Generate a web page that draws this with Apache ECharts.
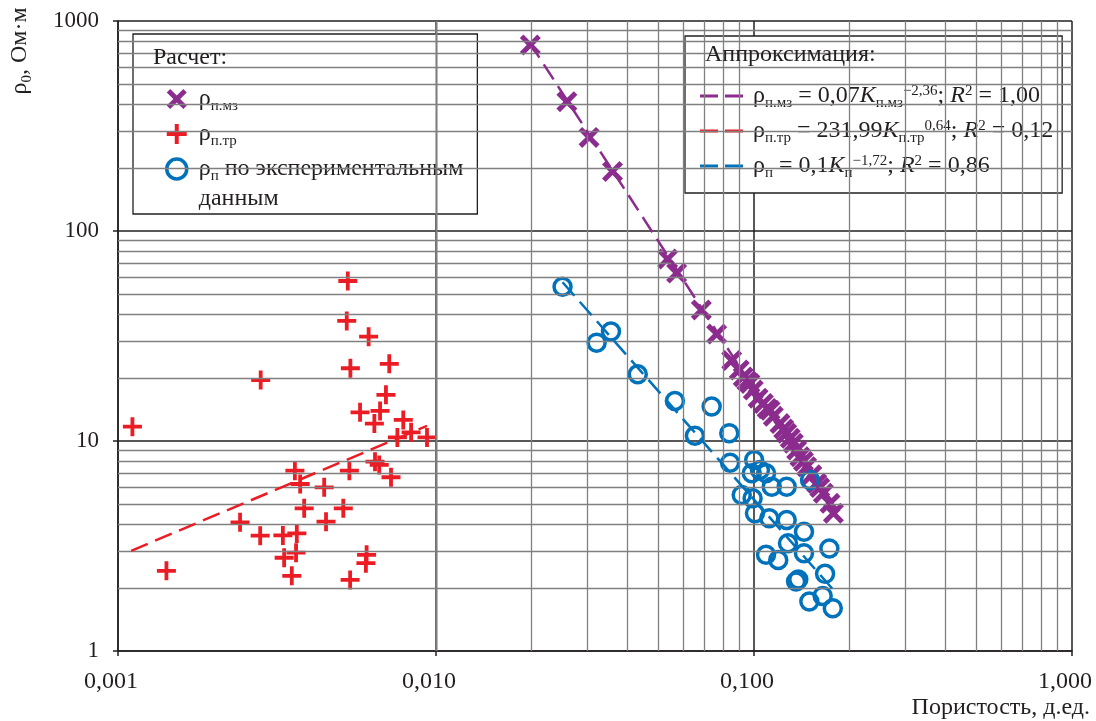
<!DOCTYPE html>
<html>
<head>
<meta charset="utf-8">
<script src="https://cdn.jsdelivr.net/npm/echarts@6/dist/echarts.min.js"></script>
<style>
  html, body { margin: 0; padding: 0; background: #fff; }
  #chart { width: 1096px; height: 721px; }
</style>
</head>
<body>
<div id="chart"></div>
<script>
// Porosity K (fraction) and resistivity ρ (Ом·м) for each sample
const mzPorosity = [0.0198, 0.0258, 0.0303, 0.0359, 0.0535, 0.0571, 0.0683, 0.0763, 0.0851, 0.0899,
  0.0925, 0.0950, 0.0971, 0.0995, 0.1030, 0.1070, 0.1100, 0.1123, 0.1150, 0.1207, 0.1240, 0.1267,
  0.1300, 0.1329, 0.1362, 0.1395, 0.1430, 0.1464, 0.1520, 0.1575, 0.1610, 0.1652, 0.1734, 0.1777];
const mzRho = [769, 413, 279, 192, 73.6, 63.1, 42.1, 32.3, 24.2, 21.8,
  20.2, 19.3, 18.8, 17.5, 16.0, 15.1, 14.3, 14.0, 13.1, 12.1, 11.4, 10.9,
  10.3, 9.75, 9.06, 8.42, 8.0, 7.54, 6.9, 6.29, 6.0, 5.64, 5.05, 4.53];

const trPorosity = [0.00111, 0.00142, 0.00281, 0.00528, 0.00524, 0.00614, 0.00538, 0.00713, 0.00696,
  0.00577, 0.00667, 0.00640, 0.00789, 0.00756, 0.00835, 0.00937, 0.00360, 0.00374, 0.00534, 0.00643,
  0.00663, 0.00722, 0.00445, 0.00385, 0.00511, 0.00242, 0.00451, 0.00280, 0.00330, 0.00365, 0.00333,
  0.00363, 0.00352, 0.00605, 0.00602, 0.00537];
const trRho = [11.7, 2.41, 19.5, 57.8, 37.3, 31.4, 22.2, 23.3, 16.6,
  13.7, 13.9, 12.1, 12.6, 10.4, 11.0, 10.4, 7.22, 6.24, 7.22, 7.97,
  7.69, 6.72, 6.02, 4.78, 4.78, 4.10, 4.13, 3.54, 3.55, 3.63, 2.78,
  2.94, 2.28, 2.87, 2.62, 2.18];

const expPorosity = [0.0250, 0.0320, 0.0355, 0.0431, 0.0564, 0.0736, 0.0652, 0.0836, 0.0841, 0.1001,
  0.1044, 0.0984, 0.1091, 0.1137, 0.1267, 0.1500, 0.0915, 0.0990, 0.1007, 0.1117, 0.1267, 0.1436,
  0.1726, 0.1091, 0.1192, 0.1279, 0.1436, 0.1673, 0.1356, 0.1378, 0.1493, 0.1644, 0.1769];
const expRho = [54.3, 29.4, 33.2, 20.8, 15.5, 14.6, 10.6, 10.9, 7.88, 8.12,
  7.28, 7.02, 7.02, 6.06, 6.06, 6.52, 5.53, 5.34, 4.53, 4.29, 4.21, 3.70,
  3.08, 2.87, 2.71, 3.26, 2.92, 2.33, 2.14, 2.19, 1.72, 1.83, 1.60];

// Power-law fits (straight on log–log axes), end points over each sample range
const fitMzK = [0.0197, 0.1777];
const fitMzRho = [790, 4.6];
const fitTrK = [0.00110, 0.00937];
const fitTrRho = [3.0, 11.8];
const fitExpK = [0.0250, 0.1769];
const fitExpRho = [57, 1.97];

// Axis tick labels
const xTickLabels = ['0,001', '0,010', '0,100', '1,000'];
const yTickLabels = ['1', '10', '100', '1000'];

const SERIF = '"Liberation Serif", "Times New Roman", serif';
const INK = '#231f20';
const PURPLE = '#8b2c8e';
const RED = '#ec1c24';
const BLUE = '#0072bc';
const FS = 24;

const pairs = (xs, ys) => xs.map((x, i) => [x, ys[i]]);

// Minor log grid lines at 2..9 within each decade
const minorX = [];
[0.001, 0.01, 0.1].forEach(d => { for (let m = 2; m <= 9; m++) minorX.push({ xAxis: +(d * m).toPrecision(3) }); });
const minorY = [];
[1, 10, 100].forEach(d => { for (let m = 2; m <= 9; m++) minorY.push({ yAxis: d * m }); });

const NAME_MZ = 'ρп.мз';
const NAME_TR = 'ρп.тр';
const NAME_EXP = 'ρп по экспериментальным данным';
const FIT_MZ = 'ρп.мз = 0,07Kп.мз−2,36; R2 = 1,00';
const FIT_TR = 'ρп.тр = 231,99Kп.тр0,64; R2 = 0,12';
const FIT_EXP = 'ρп = 0,1Kп−1,72; R2 = 0,86';

const legendText = {};
legendText[NAME_MZ] = 'ρ{s|п.мз}';
legendText[NAME_TR] = 'ρ{s|п.тр}';
legendText[NAME_EXP] = 'ρ{s|п} по экспериментальным\nданным';
legendText[FIT_MZ] = 'ρ{s|п.мз} = 0,07{i|K}{s|п.мз}{p|−2,36}; {i|R}{p|2} = 1,00';
legendText[FIT_TR] = 'ρ{s|п.тр} = 231,99{i|K}{s|п.тр}{p|0,64}; {i|R}{p|2} = 0,12';
legendText[FIT_EXP] = 'ρ{s|п} = 0,1{i|K}{s|п}{p|−1,72}; {i|R}{p|2} = 0,86';

const rich = {
  s: { fontFamily: SERIF, fontSize: 15, color: INK, lineHeight: 10, padding: [15, 0, 0, 0] },
  p: { fontFamily: SERIF, fontSize: 15, color: INK, lineHeight: 10, padding: [0, 0, 9, 0] },
  i: { fontFamily: SERIF, fontSize: FS, fontStyle: 'italic', color: INK, lineHeight: 30 }
};
const legendTextStyle = { fontFamily: SERIF, fontSize: FS, color: INK, lineHeight: 30, rich: rich };

const crossPath = 'path://M0,1.7L1.7,0L5,3.3L8.3,0L10,1.7L6.7,5L10,8.3L8.3,10L5,6.7L1.7,10L0,8.3L3.3,5Z';
const plusPath = 'path://M4,0h2v4h4v2h-4v4h-2v-4h-4v-2h4z';
const dashIcon = 'path://M0,0h18v3h-18z M25,0h18v3h-18z';

const chart = echarts.init(document.getElementById('chart'), null, { renderer: 'canvas' });

chart.setOption({
  animation: false,
  backgroundColor: '#fff',
  grid: { left: 118, right: 24, top: 21, bottom: 70, containLabel: false },
  xAxis: {
    type: 'log', logBase: 10, min: 0.001, max: 1,
    axisLine: { show: true, onZero: false, lineStyle: { color: INK, width: 1.5 } },
    axisTick: { show: true, length: 5, lineStyle: { color: INK, width: 1.5 } },
    splitLine: { show: true, lineStyle: { color: INK, width: 1.5 } },
    axisLabel: {
      fontFamily: SERIF, fontSize: FS, color: INK, margin: 19, padding: [0, 14, 0, 0],
      formatter: v => xTickLabels[Math.round(Math.log10(v)) + 3]
    }
  },
  yAxis: {
    type: 'log', logBase: 10, min: 1, max: 1000,
    axisLine: { show: true, onZero: false, lineStyle: { color: INK, width: 1.5 } },
    axisTick: { show: true, length: 5, lineStyle: { color: INK, width: 1.5 } },
    splitLine: { show: true, lineStyle: { color: INK, width: 1.5 } },
    axisLabel: {
      fontFamily: SERIF, fontSize: 23, color: INK, margin: 19,
      formatter: v => yTickLabels[Math.round(Math.log10(v))]
    }
  },
  legend: [
    {
      // single-line items are padded on both sides so the icon stays level with the first text line
      id: 'calc', orient: 'vertical', left: 133, top: 34,
      padding: [20, 14, 0, 32], itemGap: -55, itemWidth: 34, itemHeight: 20,
      borderColor: INK, borderWidth: 1.3, backgroundColor: '#fff',
      selectedMode: false, symbolKeepAspect: true,
      data: [
        { name: NAME_MZ, textStyle: { padding: [30, 0, 30, 0] } },
        { name: NAME_TR, textStyle: { padding: [30, 0, 30, 0] } },
        { name: NAME_EXP, textStyle: { padding: [30, 0, 0, 0] },
          itemStyle: { color: 'rgba(0,0,0,0)', borderColor: BLUE, borderWidth: 3.5 } }
      ],
      formatter: n => legendText[n],
      textStyle: legendTextStyle
    },
    {
      id: 'fit', orient: 'vertical', left: 685, top: 36,
      padding: [45, 9, 12, 15], itemGap: 5, itemWidth: 47, itemHeight: 3,
      borderColor: INK, borderWidth: 1.3, backgroundColor: '#fff',
      selectedMode: false, icon: dashIcon,
      data: [FIT_MZ, FIT_TR, FIT_EXP],
      formatter: n => legendText[n],
      textStyle: Object.assign({}, legendTextStyle, { padding: [0, 0, 0, 3] })
    }
  ],
  graphic: [
    { type: 'text', z: 100, x: 153, y: 58,
      style: { text: 'Расчет:', font: FS + 'px ' + SERIF, fill: INK, verticalAlign: 'middle' } },
    { type: 'text', z: 100, x: 705, y: 55,
      style: { text: 'Аппроксимация:', font: FS + 'px ' + SERIF, fill: INK, verticalAlign: 'middle' } },
    { type: 'text', z: 100, x: 20, y: 51, rotation: Math.PI / 2,
      style: { text: 'ρ{s|0}, Ом·м', font: FS + 'px ' + SERIF, fill: INK, align: 'center', verticalAlign: 'middle',
        rich: { s: { font: '15px ' + SERIF, fill: INK, lineHeight: 10, padding: [15, 0, 0, 0] } } } },
    { type: 'text', z: 100, x: 1090, y: 708,
      style: { text: 'Пористость, д.ед.', font: FS + 'px ' + SERIF, fill: INK, align: 'right', verticalAlign: 'middle' } }
  ],
  series: [
    {
      name: 'minor grid', type: 'line', data: [], z: 1, silent: true,
      markLine: {
        silent: true, symbol: 'none', animation: false,
        label: { show: false },
        lineStyle: { color: '#808080', width: 1.3, type: 'solid' },
        emphasis: { disabled: true },
        data: minorX.concat(minorY)
      }
    },
    {
      name: NAME_TR, type: 'scatter', z: 3, symbol: plusPath, symbolSize: 19,
      itemStyle: { color: RED, opacity: 1 },
      data: pairs(trPorosity, trRho)
    },
    {
      name: NAME_MZ, type: 'scatter', z: 3, symbol: crossPath, symbolSize: 21,
      itemStyle: { color: PURPLE, opacity: 1 },
      data: pairs(mzPorosity, mzRho)
    },
    {
      name: NAME_EXP, type: 'scatter', z: 4, symbol: 'circle', symbolSize: 17,
      itemStyle: { color: 'rgba(0,0,0,0)', borderColor: BLUE, borderWidth: 3.5, opacity: 1 },
      data: pairs(expPorosity, expRho)
    },
    {
      name: FIT_MZ, type: 'line', z: 5, symbol: 'none', color: PURPLE,
      lineStyle: { color: PURPLE, width: 2.5, type: [18, 8] },
      data: pairs(fitMzK, fitMzRho)
    },
    {
      name: FIT_TR, type: 'line', z: 5, symbol: 'none', color: RED,
      lineStyle: { color: RED, width: 2.5, type: [18, 8] },
      data: pairs(fitTrK, fitTrRho)
    },
    {
      name: FIT_EXP, type: 'line', z: 5, symbol: 'none', color: BLUE,
      lineStyle: { color: BLUE, width: 2.5, type: [18, 8] },
      data: pairs(fitExpK, fitExpRho)
    }
  ]
});
</script>
</body>
</html>
